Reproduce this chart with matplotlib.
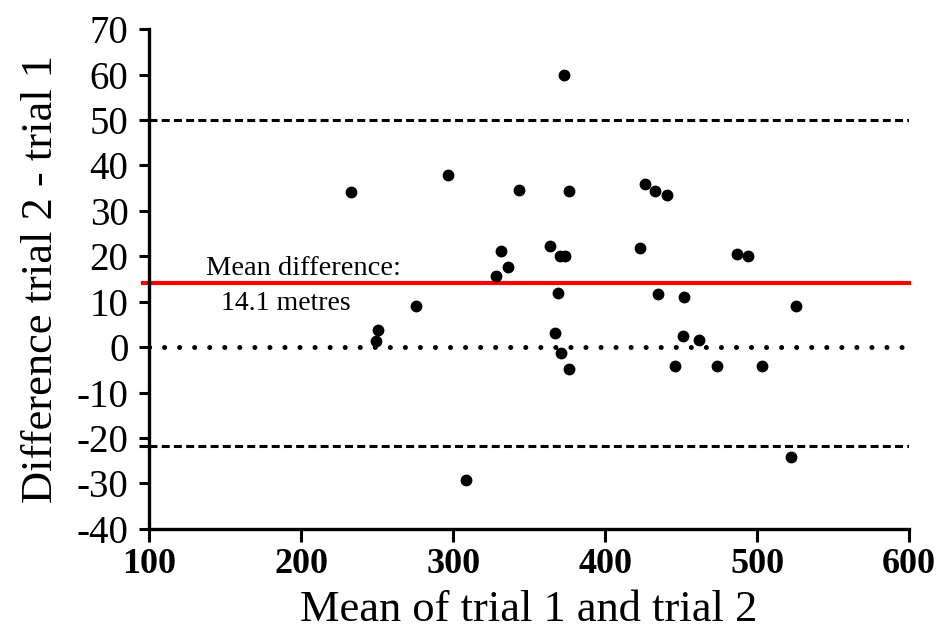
import matplotlib
matplotlib.use("Agg")
import matplotlib.pyplot as plt

# Bland-Altman data
mean_trials = [232.9, 250.4, 249.3, 275.7, 296.5, 308.4, 327.9, 331.5, 336.0, 343.1,
               363.7, 366.8, 368.9, 370.1, 373.4, 371.2, 373.0, 376.0, 376.2, 423.2,
               426.5, 433.1, 434.7, 441.0, 446.0, 451.3, 452.2, 461.8, 473.7, 486.5,
               494.3, 503.6, 522.1, 525.4]
diff_trials = [34.1, 3.7, 1.4, 9.0, 37.9, -29.3, 15.7, 21.1, 17.6, 34.6,
               22.2, 3.1, 12.0, 20.1, 20.1, -1.4, 60.0, 34.3, -4.8, 21.9,
               36.0, 34.3, 11.6, 33.5, -4.1, 2.5, 11.0, 1.5, -4.1, 20.6,
               20.0, -4.1, -24.2, 9.1]
mean_diff = 14.1
upper_loa = 50.0
lower_loa = -21.8
x_ticks = [100, 200, 300, 400, 500, 600]
y_ticks = [-40, -30, -20, -10, 0, 10, 20, 30, 40, 50, 60, 70]

plt.rcParams["font.family"] = ["Liberation Serif", "DejaVu Serif"]

fig = plt.figure(figsize=(9.39, 6.34), dpi=100)
ax = fig.add_axes([0.159, 0.166, 0.809, 0.788])

# limits of agreement and zero line
ax.axhline(upper_loa, color="black", lw=2.2, dashes=(2.6, 1.4))
ax.axhline(lower_loa, color="black", lw=2.2, dashes=(2.6, 1.4))
ax.axhline(0, color="black", lw=3.6, dashes=(0.01, 3.0), dash_capstyle="round")
ax.axhline(mean_diff, xmin=-0.008, color="red", lw=3.0, clip_on=False)

ax.plot(mean_trials, diff_trials, "o", color="black", ms=7.5, zorder=3)

ax.text(137, 17.4, "Mean difference:", fontsize=20.5, va="center", ha="left")
ax.text(190, 9.6, f"{mean_diff} metres", fontsize=20, va="center", ha="center")

ax.set_xlim(100, 600)
ax.set_ylim(-40, 70)
ax.set_xticks(x_ticks)
ax.set_yticks(y_ticks)
ax.set_yticks([lower_loa], minor=True)
ax.set_xticklabels([str(t) for t in x_ticks], fontweight="bold", fontsize=26)
ax.set_yticklabels([str(t) for t in y_ticks], fontsize=28)

ax.spines["top"].set_visible(False)
ax.spines["right"].set_visible(False)
for s in ["left", "bottom"]:
    ax.spines[s].set_linewidth(2.4)
ax.tick_params(axis="y", which="both", length=7, width=2.2, pad=8)
ax.tick_params(axis="x", length=9, width=2.2, pad=5)

ax.set_xlabel("Mean of trial 1 and trial 2", fontsize=32, labelpad=6)
ax.set_ylabel("Difference trial 2 - trial 1", fontsize=32, labelpad=11)

fig.savefig("out.png", dpi=100)
